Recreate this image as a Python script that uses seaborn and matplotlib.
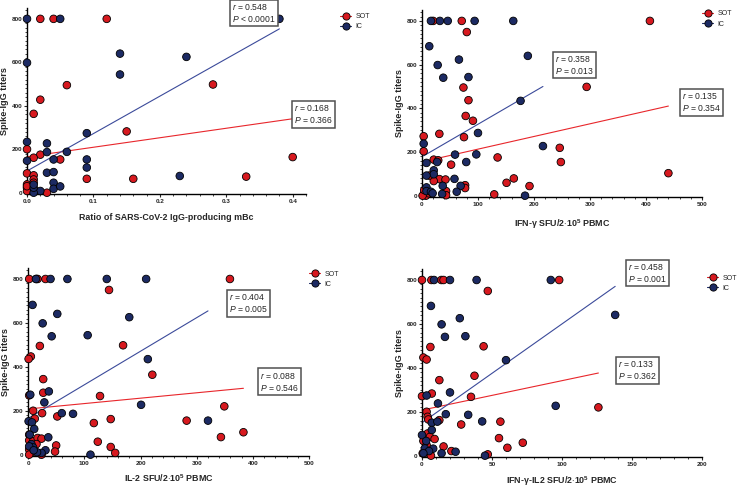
import pandas as pd
import matplotlib.pyplot as plt
from matplotlib.lines import Line2D
from matplotlib.ticker import MultipleLocator
import seaborn as sns

# Points (x, Spike-IgG titer)
p1_sot_x = [0.02, 0.04, 0.12, 0.28, 0.06, 0.02, 0.01, 0.15, 0.0, 0.02, 0.01, 0.05, 0.4, 0.0, 0.09,
            0.16, 0.33, 0.0, 0.0, 0.0, 0.01, 0.01, 0.01, 0.03, 0.0]
p1_sot_y = [800, 800, 800, 498, 495, 428, 363, 282, 200, 175, 161, 153, 164, 89, 64,
            64, 74, 38, 23, 8, 80, 61, 46, 0, 30]
p1_ic_x = [0.0, 0.05, 0.38, 0.14, 0.0, 0.14, 0.24, 0.09, 0.0, 0.03, 0.03, 0.06, 0.0, 0.04, 0.09,
           0.09, 0.03, 0.04, 0.23, 0.04, 0.04, 0.05, 0.02, 0.01, 0.01, 0.01]
p1_ic_y = [800, 800, 800, 640, 598, 544, 625, 274, 234, 227, 187, 188, 147, 153, 153,
           116, 92, 95, 77, 46, 18, 29, 8, 0, 23, 37]

p2_sot_x = [20, 71, 80, 407, 294, 74, 83, 78, 91, 75, 31, 3, 3, 52, 21, 29, 135, 246, 248, 440,
            31, 42, 21, 13, 151, 164, 192, 77, 77, 43, 43, 129, 4, 7, 12, 1, 4]
p2_sot_y = [800, 800, 749, 800, 498, 495, 437, 365, 343, 268, 283, 272, 203, 142, 165, 162, 175,
            219, 154, 103, 76, 74, 67, 92, 59, 79, 44, 48, 35, 21, 2, 6, 11, 0, 11, 0, 26]
p2_ic_x = [16, 32, 46, 94, 163, 13, 28, 66, 38, 83, 189, 176, 100, 3, 59, 97, 79, 216, 8, 27,
           21, 21, 8, 58, 37, 69, 62, 36, 184, 8, 8, 16, 19]
p2_ic_y = [800, 800, 800, 800, 800, 684, 598, 623, 540, 543, 640, 434, 287, 238, 188, 189, 154,
           227, 150, 154, 116, 98, 92, 77, 45, 45, 18, 8, 0, 38, 21, 18, 11]

p3_sot_x = [2, 15, 17, 31, 359, 144, 169, 21, 5, 1, 221, 27, 27, 2, 128, 349, 9, 25, 12, 52, 117,
            147, 282, 383, 343, 2, 2, 9, 17, 24, 15, 50, 124, 147, 155, 48, 9, 2, 2, 24]
p3_sot_y = [800, 800, 800, 800, 800, 750, 498, 495, 447, 436, 364, 344, 282, 270, 267, 220, 200,
            189, 164, 174, 144, 162, 155, 102, 80, 91, 65, 61, 76, 73, 48, 42, 59, 35, 8, 14, 14,
            23, 0, 0]
p3_ic_x = [14, 40, 70, 140, 210, 8, 26, 52, 180, 42, 106, 213, 37, 29, 201, 4, 60, 80, 320, 1, 7,
           11, 36, 3, 6, 9, 31, 24, 16, 111, 2, 10]
p3_ic_y = [800, 800, 800, 800, 800, 682, 598, 641, 626, 539, 544, 435, 288, 238, 227, 273, 189,
           186, 155, 152, 147, 117, 79, 91, 48, 33, 20, 8, 11, 0, 38, 20]

p4_sot_x = [0, 6.7, 13.8, 15.4, 98, 47, 6, 44, 1, 3.3, 37.5, 12.4, 7, 35, 0, 3.3, 4, 4.5, 12.4,
            28, 56, 126, 55, 72, 61, 4, 5.7, 9, 1, 3.3, 15.4, 21, 47, 5, 6.4, 0.5, 2.4]
p4_sot_y = [800, 800, 800, 800, 800, 750, 495, 498, 447, 438, 364, 344, 283, 268, 271, 200, 177,
            165, 162, 142, 155, 220, 80, 59, 36, 101, 86, 76, 67, 48, 42, 21, 6, 11, 0, 11, 23]
p4_ic_x = [8.6, 20, 39, 92, 6.4, 14, 27, 16.4, 31, 138, 60, 20, 3.3, 11.4, 33, 17, 43, 95.5, 7,
           7, 11, 0, 3, 8, 14, 24, 45, 2, 5, 1]
p4_ic_y = [800, 800, 800, 800, 682, 598, 626, 541, 544, 641, 435, 288, 274, 238, 186, 189, 156,
           227, 150, 117, 155, 94, 67, 32, 11, 18, 0, 33, 21, 11]

# Regression lines (intercept, slope) and the statistics shown in the boxes
fit_sot = [(165.5, 437.0), (155.0, 0.58), (208.0, 0.246), (207.6, 1.34)]
fit_ic = [(100.0, 1721.0), (178.0, 1.49), (165.0, 1.53), (150.0, 4.5)]
r_sot = ['0.168', '0.135', '0.088', '0.133']
p_sot = ['= 0.366', '= 0.354', '= 0.546', '= 0.362']
r_ic = ['0.548', '0.358', '0.404', '0.458']
p_ic = ['< 0.0001', '= 0.013', '= 0.005', '= 0.001']

x_labels = ['Ratio of SARS-CoV-2 IgG-producing mBc',
            r'IFN-$\mathbf{\gamma}$ SFU/2$\cdot$10$^{\mathbf{5}}$ PBMC',
            r'IL-2 SFU/2$\cdot$10$^{\mathbf{5}}$ PBMC',
            r'IFN-$\mathbf{\gamma}$-IL2 SFU/2$\cdot$10$^{\mathbf{5}}$ PBMC']

RED = '#d7191f'
NAVY = '#1c2a63'
RED_LINE = '#e8262b'
BLUE_LINE = '#3b4a9a'

sns.set_style('ticks')
plt.rcParams['font.family'] = ['Liberation Sans', 'DejaVu Sans']
plt.rcParams['mathtext.fontset'] = 'custom'
plt.rcParams['mathtext.rm'] = 'Liberation Sans'
plt.rcParams['mathtext.it'] = 'Liberation Sans:italic'
plt.rcParams['mathtext.bf'] = 'Liberation Sans:bold'

panels = [
    dict(sot=(p1_sot_x, p1_sot_y), ic=(p1_ic_x, p1_ic_y), rect=[0.0366, 0.6016, 0.378, 0.382],
         xlim=0.42, xmaj=0.1, xmin=0.02, box_ic=(0.309, 828), box_sot=(0.402, 360),
         leg=(1.122, 0.927), xpad=6.5),
    dict(sot=(p2_sot_x, p2_sot_y), ic=(p2_ic_x, p2_ic_y), rect=[0.5718, 0.5955, 0.3794, 0.384],
         xlim=500, xmaj=100, xmin=20, box_ic=(237, 599), box_sot=(464, 427),
         leg=(1.0, 0.952), xpad=7.5),
    dict(sot=(p3_sot_x, p3_sot_y), ic=(p3_ic_x, p3_ic_y), rect=[0.038, 0.0637, 0.381, 0.386],
         xlim=500, xmaj=100, xmin=20, box_ic=(357, 689), box_sot=(413, 333),
         leg=(1.0, 0.94), xpad=5),
    dict(sot=(p4_sot_x, p4_sot_y), ic=(p4_ic_x, p4_ic_y), rect=[0.5718, 0.0616, 0.3794, 0.386],
         xlim=200, xmaj=50, xmin=10, box_ic=(147, 832), box_sot=(140, 388),
         leg=(1.018, 0.925), xpad=5),
]

fig = plt.figure(figsize=(7.38, 4.87), dpi=100)

for i, pn in enumerate(panels):
    ax = fig.add_axes(pn['rect'])
    df = pd.concat([
        pd.DataFrame({'x': pn['sot'][0], 'y': pn['sot'][1], 'group': 'SOT'}),
        pd.DataFrame({'x': pn['ic'][0], 'y': pn['ic'][1], 'group': 'IC'}),
    ], ignore_index=True)

    sns.scatterplot(data=df, x='x', y='y', hue='group', palette={'SOT': RED, 'IC': NAVY},
                    s=30, edgecolor='black', linewidth=0.6, legend=False, ax=ax,
                    clip_on=False, zorder=3)

    for grp, (a, b), col in [('SOT', fit_sot[i], RED_LINE), ('IC', fit_ic[i], BLUE_LINE)]:
        xs = df.loc[df['group'] == grp, 'x']
        x0, x1 = xs.min(), xs.max()
        ax.plot([x0, x1], [a + b * x0, a + b * x1], color=col, lw=0.8, zorder=2, clip_on=False)

    box = dict(boxstyle='square,pad=0.25', fc='white', ec='#505050', lw=1.1)
    for (bx, by), r, p in [(pn['box_ic'], r_ic[i], p_ic[i]), (pn['box_sot'], r_sot[i], p_sot[i])]:
        ax.text(bx, by, '$\\it{r}$ = ' + r + '\n$\\it{P}$ ' + p, fontsize=6.2, ha='left',
                va='center', bbox=box, zorder=5, clip_on=False, linespacing=1.25)

    ax.set_xlim(0, pn['xlim'])
    ax.set_ylim(-6, 850)
    ax.xaxis.set_major_locator(MultipleLocator(pn['xmaj']))
    ax.xaxis.set_minor_locator(MultipleLocator(pn['xmin']))
    ax.yaxis.set_major_locator(MultipleLocator(200))
    ax.yaxis.set_minor_locator(MultipleLocator(20))
    ax.tick_params(which='major', length=2.5, width=0.8, pad=1.0, labelsize=4.6)
    ax.tick_params(which='minor', length=1.5, width=0.6)
    for lab in ax.get_xticklabels() + ax.get_yticklabels():
        lab.set_fontweight('bold')
    sns.despine(ax=ax)
    for sp in ['left', 'bottom']:
        ax.spines[sp].set_linewidth(1.0)
        ax.spines[sp].set_color('black')

    ax.set_xlabel(x_labels[i], fontsize=6.4, fontweight='bold', labelpad=pn['xpad'])
    ax.set_ylabel('Spike-IgG titers', fontsize=6.6, fontweight='bold', labelpad=1.5)

    handles = [Line2D([0], [0], color=c, lw=0.8, marker='o', markersize=5.2,
                      markerfacecolor=c, markeredgecolor='black', markeredgewidth=0.6)
               for c in (RED, NAVY)]
    ax.legend(handles, ['SOT', 'IC'], loc='center left', bbox_to_anchor=pn['leg'],
              frameon=False, fontsize=5, handlelength=1.6, handletextpad=0.6,
              labelspacing=0.45, borderpad=0, borderaxespad=0)

fig.savefig('out.png', dpi=100)
